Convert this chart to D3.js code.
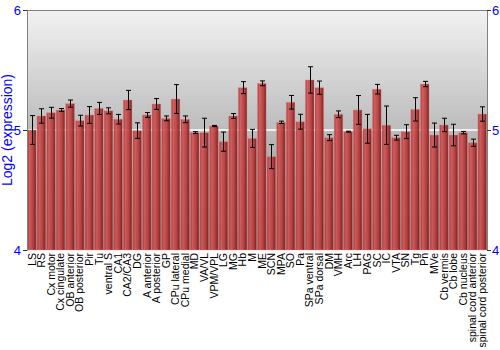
<!DOCTYPE html>
<html>
<head>
<meta charset="utf-8">
<script src="https://cdn.jsdelivr.net/npm/d3@7"></script>
<style>
  body { margin: 0; background: #fff; }
  svg { display: block; font-family: "Liberation Sans", Arial, sans-serif; }
</style>
</head>
<body>
<div id="graph"></div>
<script>
const width = 500, height = 350;
const margin = {top: 10, right: 13, bottom: 100, left: 27};

const regions = ["LS", "RS", "Cx motor", "Cx cingulate", "OB anterior", "OB posterior", "Pir", "Tu",
    "ventral S", "CA1", "CA2/CA3", "DG", "A anterior", "A posterior", "GP", "CPu lateral", "CPu medial",
    "MD", "VA/VL", "VPM/VPL", "LG", "MG", "Hb", "M", "ME", "SCN", "MPA", "SO", "Pa", "SPa ventral",
    "SPa dorsal", "DM", "VMH", "Arc", "LH", "PAG", "SC", "IC", "VTA", "SN", "Tg", "Pn", "MVe",
    "Cb vermis", "Cb lobe", "Cb nucleus", "spinal cord anterior", "spinal cord posterior"];

const expression = [5.00, 5.117, 5.144, 5.167, 5.22, 5.078, 5.125, 5.18, 5.16, 5.09, 5.25, 4.995,
    5.125, 5.217, 5.097, 5.258, 5.089, 4.978, 4.978, 5.033, 4.903, 5.117, 5.353, 4.93, 5.389, 4.778,
    5.064, 5.231, 5.069, 5.417, 5.353, 4.936, 5.131, 4.986, 5.167, 5.01, 5.34, 5.04, 4.936, 4.986,
    5.172, 5.383, 4.958, 5.042, 4.958, 4.978, 4.894, 5.133];

const errors = [0.12, 0.06, 0.045, 0.012, 0.03, 0.045, 0.07, 0.05, 0.025, 0.04, 0.08, 0.065,
    0.02, 0.045, 0.02, 0.12, 0.028, 0.008, 0.12, 0.005, 0.08, 0.02, 0.05, 0.075, 0.02, 0.1,
    0.01, 0.057, 0.062, 0.11, 0.055, 0.025, 0.028, 0.004, 0.12, 0.12, 0.04, 0.16, 0.02, 0.058,
    0.097, 0.022, 0.1, 0.056, 0.09, 0.01, 0.03, 0.06];

const yTicks = [4, 5, 6];

const data = regions.map(function(r, i) {
    return {name: r, value: expression[i], err: errors[i]};
});

let svg = d3.select("#graph")
    .append("svg")
    .attr("width", width)
    .attr("height", height);

let defs = svg.append("defs");

let bg = defs.append("linearGradient")
    .attr("id", "bg")
    .attr("x1", 0).attr("y1", 0).attr("x2", 0).attr("y2", 1);
bg.append("stop").attr("offset", "0%").attr("stop-color", "#f2f2f2");
bg.append("stop").attr("offset", "100%").attr("stop-color", "#858585");

let barGrad = defs.append("linearGradient")
    .attr("id", "bar")
    .attr("x1", 0).attr("y1", 0).attr("x2", 1).attr("y2", 0);
barGrad.append("stop").attr("offset", "0%").attr("stop-color", "#a83333");
barGrad.append("stop").attr("offset", "25%").attr("stop-color", "#d25656");
barGrad.append("stop").attr("offset", "65%").attr("stop-color", "#b63a3a");
barGrad.append("stop").attr("offset", "100%").attr("stop-color", "#761616");

let x = d3.scaleBand()
    .domain(regions)
    .range([margin.left, width - margin.right])
    .paddingInner(0.1)
    .paddingOuter(0.05);

let y = d3.scaleLinear()
    .domain([4, 6])
    .range([height - margin.bottom, margin.top]);

// plot background
svg.append("rect")
    .attr("x", margin.left)
    .attr("y", margin.top)
    .attr("width", width - margin.left - margin.right)
    .attr("height", height - margin.top - margin.bottom)
    .attr("fill", "url(#bg)");

// white grid line at 5
svg.append("line")
    .attr("x1", margin.left)
    .attr("x2", width - margin.right)
    .attr("y1", y(5))
    .attr("y2", y(5))
    .attr("stroke", "#ffffff")
    .attr("stroke-width", 1.5);

svg.selectAll("rect.bar")
    .data(data)
    .enter()
    .append("rect")
    .attr("class", "bar")
    .attr("x", function(d) { return x(d.name); })
    .attr("y", function(d) { return y(d.value); })
    .attr("width", x.bandwidth())
    .attr("height", function(d) { return y(4) - y(d.value); })
    .attr("fill", "url(#bar)")
    .attr("fill-opacity", 0.92)
    .attr("stroke", "rgba(230,140,140,0.45)")
    .attr("stroke-width", 0.8);

// error bars
let errG = svg.append("g")
    .attr("stroke", "#000")
    .attr("stroke-width", 1);

data.forEach(function(d) {
    let cx = Math.round(x(d.name) + x.bandwidth() / 2) + 0.5;
    let y0 = y(d.value + d.err), y1 = y(d.value - d.err);
    errG.append("line").attr("x1", cx).attr("x2", cx).attr("y1", y0).attr("y2", y1);
    errG.append("line").attr("x1", cx - 2.5).attr("x2", cx + 2.5).attr("y1", y0).attr("y2", y0);
    errG.append("line").attr("x1", cx - 2.5).attr("x2", cx + 2.5).attr("y1", y1).attr("y2", y1);
});

// top border
svg.append("line")
    .attr("x1", margin.left)
    .attr("x2", width - margin.right)
    .attr("y1", margin.top + 0.5)
    .attr("y2", margin.top + 0.5)
    .attr("stroke", "#808080");

let leftAxis = svg.append("g")
    .attr("transform", `translate(${margin.left}, 0)`)
    .call(d3.axisLeft(y).tickValues(yTicks).tickSize(4).tickPadding(2).tickFormat(d3.format("d")));

let rightAxis = svg.append("g")
    .attr("transform", `translate(${width - margin.right}, 0)`)
    .call(d3.axisRight(y).tickValues(yTicks).tickSize(4).tickPadding(1).tickFormat(d3.format("d")));

[leftAxis, rightAxis].forEach(function(ax) {
    ax.select(".domain").attr("stroke", "#808080");
    ax.selectAll(".tick line").attr("stroke", "#333");
    ax.selectAll(".tick text")
        .attr("fill", "#0000ff")
        .style("font-size", "13px")
        .style("font-family", "Liberation Sans, Arial, sans-serif");
});

let xAxis = svg.append("g")
    .attr("transform", `translate(0, ${height - margin.bottom})`)
    .call(d3.axisBottom(x).tickSize(0));

xAxis.select(".domain").remove();
xAxis.selectAll(".tick text")
    .attr("transform", "rotate(-90)")
    .attr("x", -3)
    .attr("y", 0)
    .attr("dy", "0.36em")
    .style("text-anchor", "end")
    .style("font-size", "10.5px")
    .style("font-family", "Liberation Sans, Arial, sans-serif")
    .attr("fill", "#000");

svg.append("text")
    .attr("transform", `translate(12, ${(margin.top + height - margin.bottom) / 2}) rotate(-90)`)
    .style("text-anchor", "middle")
    .style("font-size", "14px")
    .attr("fill", "#0000ff")
    .text("Log2 (expression)");
</script>
</body>
</html>
